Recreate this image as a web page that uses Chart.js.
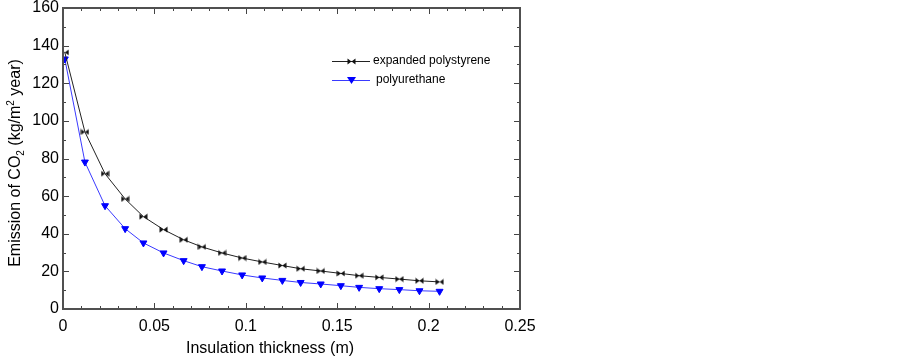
<!DOCTYPE html>
<html>
<head>
<meta charset="utf-8">
<script src="https://cdn.jsdelivr.net/npm/chart.js@4/dist/chart.umd.min.js"></script>
<style>
  html, body { margin: 0; padding: 0; background: #fff; }
  #wrap { width: 903px; height: 358px; }
</style>
</head>
<body>
<div id="wrap"><canvas id="chart"></canvas></div>
<script>
// Insulation thickness (m)
const thickness = [0.001, 0.012, 0.023, 0.034, 0.044, 0.055, 0.066, 0.076, 0.087, 0.098,
                   0.109, 0.120, 0.130, 0.141, 0.152, 0.162, 0.173, 0.184, 0.195, 0.206];
// Emission of CO2 (kg/m2 year)
const polystyrene = [136.4, 94.1, 71.9, 58.5, 49.1, 42.2, 36.8, 33.0, 29.8, 27.1,
                     25.0, 23.1, 21.4, 20.2, 18.9, 17.7, 16.8, 15.9, 15.0, 14.4];
const polyurethane = [132.9, 78.1, 54.9, 42.7, 35.1, 29.8, 25.7, 22.5, 20.2, 18.1,
                      16.5, 15.2, 14.1, 13.3, 12.4, 11.5, 10.8, 10.3, 9.7, 9.4];
const seriesNames = ['expanded polystyrene', 'polyurethane'];
const xTickLabels = ['0', '0.05', '0.1', '0.15', '0.2', '0.25'];
const yTickLabels = ['0', '20', '40', '60', '80', '100', '120', '140', '160'];

const FONT = '"Liberation Sans", Arial, sans-serif';

// bowtie marker for the polystyrene series
function bowtie() {
  const c = document.createElement('canvas');
  c.width = 9; c.height = 7;
  const g = c.getContext('2d');
  g.fillStyle = '#111';
  g.beginPath(); g.moveTo(0.5, 0.5); g.lineTo(4.5, 3.5); g.lineTo(0.5, 6.5); g.closePath(); g.fill();
  g.beginPath(); g.moveTo(8.5, 0.5); g.lineTo(4.5, 3.5); g.lineTo(8.5, 6.5); g.closePath(); g.fill();
  return c;
}
const bowtieImg = bowtie();

const toPoints = ys => ys.map((v, i) => ({ x: thickness[i], y: v }));

// frame, inward ticks, axis titles and legend
const decor = {
  id: 'decor',
  afterDraw(chart) {
    const { ctx, chartArea: a, scales: { x, y } } = chart;
    ctx.save();
    ctx.strokeStyle = '#444';
    ctx.lineWidth = 1;
    ctx.beginPath();
    for (let i = 0; i <= 25; i++) {
      const px = Math.round(x.getPixelForValue(i * 0.01)) + 0.5;
      const len = i % 5 === 0 ? 6 : 3;
      ctx.moveTo(px, a.bottom); ctx.lineTo(px, a.bottom - len);
      ctx.moveTo(px, a.top); ctx.lineTo(px, a.top + len);
    }
    for (let i = 0; i <= 16; i++) {
      const py = Math.round(y.getPixelForValue(i * 10)) + 0.5;
      const len = i % 2 === 0 ? 6 : 3;
      ctx.moveTo(a.left, py); ctx.lineTo(a.left + len, py);
      ctx.moveTo(a.right, py); ctx.lineTo(a.right - len, py);
    }
    ctx.stroke();
    ctx.lineWidth = 2;
    ctx.strokeStyle = '#505050';
    ctx.strokeRect(a.left, a.top, a.right - a.left, a.bottom - a.top);

    // axis titles
    ctx.fillStyle = '#000';
    ctx.textBaseline = 'middle';
    ctx.font = '16px ' + FONT;
    ctx.textAlign = 'center';
    ctx.fillText('Insulation thickness (m)', 270, 349);

    const parts = [
      ['Emission of CO', 16, 0], ['2', 10, 5], [' (kg/m', 16, 0], ['2', 10, -5], [' year)', 16, 0]
    ];
    let total = 0;
    parts.forEach(p => { ctx.font = p[1] + 'px ' + FONT; total += ctx.measureText(p[0]).width; });
    ctx.translate(16, 163);
    ctx.rotate(-Math.PI / 2);
    ctx.textAlign = 'left';
    let cx = -total / 2;
    parts.forEach(p => {
      ctx.font = p[1] + 'px ' + FONT;
      ctx.fillText(p[0], cx, p[2]);
      cx += ctx.measureText(p[0]).width;
    });
    ctx.setTransform(1, 0, 0, 1, 0, 0);

    // legend
    ctx.font = '12px ' + FONT;
    ctx.textAlign = 'left';
    chart.data.datasets.forEach((ds, i) => {
      const ly = 61 + i * 19;
      ctx.strokeStyle = ds.borderColor;
      ctx.lineWidth = 1;
      ctx.beginPath(); ctx.moveTo(332, ly + 0.5); ctx.lineTo(370, ly + 0.5); ctx.stroke();
      if (i === 0) {
        ctx.drawImage(bowtieImg, 347, ly - 3);
      } else {
        ctx.fillStyle = ds.pointBackgroundColor;
        ctx.beginPath(); ctx.moveTo(347, ly - 3); ctx.lineTo(356, ly - 3); ctx.lineTo(351.5, ly + 4); ctx.closePath(); ctx.fill();
      }
      ctx.fillStyle = '#000';
      ctx.fillText(ds.label, i === 0 ? 373 : 376, ly);
    });
    ctx.restore();
  }
};

new Chart(document.getElementById('chart'), {
  type: 'line',
  data: {
    datasets: [
      {
        label: seriesNames[0],
        data: toPoints(polystyrene),
        borderColor: '#222',
        borderWidth: 1,
        pointStyle: bowtieImg,
        pointBackgroundColor: '#111',
        tension: 0
      },
      {
        label: seriesNames[1],
        data: toPoints(polyurethane),
        borderColor: '#3a3aff',
        borderWidth: 1,
        pointStyle: 'triangle',
        pointRotation: 180,
        pointRadius: 4,
        pointBackgroundColor: '#0000ff',
        pointBorderColor: '#0000ff',
        pointBorderWidth: 1,
        tension: 0
      }
    ]
  },
  options: {
    responsive: true,
    maintainAspectRatio: false,
    animation: false,
    layout: { padding: { left: 0, right: 383, top: 8, bottom: 0 } },
    plugins: { legend: { display: false }, tooltip: { enabled: false } },
    scales: {
      x: {
        type: 'linear',
        min: 0, max: 0.25,
        grid: { display: false },
        border: { display: false },
        ticks: {
          stepSize: 0.05,
          padding: 0,
          color: '#000',
          font: { family: FONT, size: 16 },
          maxRotation: 0,
          callback: (v, i) => xTickLabels[i]
        },
        afterFit: s => { s.height = 49; s.paddingLeft = 0; s.paddingRight = 0; }
      },
      y: {
        min: 0, max: 160,
        grid: { display: false, drawTicks: false },
        border: { display: false },
        ticks: {
          stepSize: 20,
          padding: 4,
          color: '#000',
          font: { family: FONT, size: 16 },
          callback: (v, i) => yTickLabels[i]
        },
        afterFit: s => { s.width = 63; s.paddingTop = 0; s.paddingBottom = 0; }
      }
    }
  },
  plugins: [decor]
});
</script>
</body>
</html>
